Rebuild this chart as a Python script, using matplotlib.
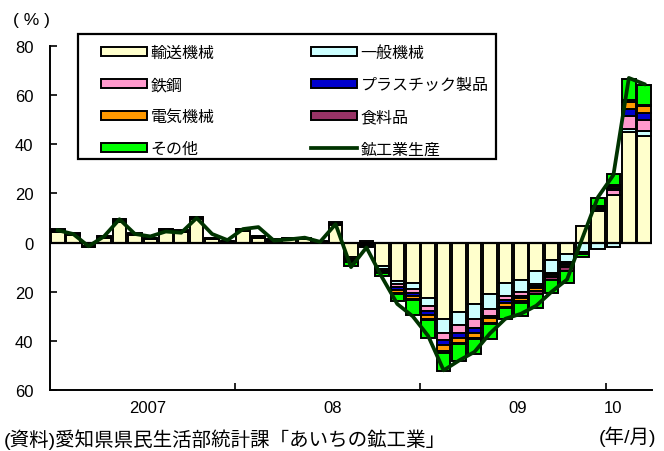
import matplotlib
matplotlib.use("Agg")
import matplotlib.pyplot as plt
import numpy as np
from matplotlib.patches import Patch, Rectangle
from matplotlib.lines import Line2D

plt.rcParams['font.family'] = ['Liberation Sans', 'Noto Sans CJK JP', 'DejaVu Sans']

# months: Jan 2007 .. Mar 2010
months = [f"{y}-{m:02d}" for y in (2007, 2008, 2009) for m in range(1, 13)] + ["2010-01", "2010-02", "2010-03"]

series_names = ["輸送機械", "一般機械", "鉄鋼", "プラスチック製品", "電気機械", "食料品", "その他"]
series_colors = ["#FFFFCC", "#CCFFFF", "#FF99CC", "#0000CC", "#FF9900", "#993366", "#00FF00"]

transport = [4.5, 3.0, -1.2, 2.0, 8.5, 3.0, 1.5, 4.6, 4.2, 9.5, 1.5, 0.5,
             4.6, 2.0, 0.8, 1.5, 1.5, 0.3, 7.2, -6.0, 0.8, -9.5, -15.6, -16.3,
             -22.4, -31.2, -28.2, -25.1, -21.0, -16.3, -15.3, -11.5, -7.2, -4.8, 6.9, 13.0,
             19.4, 44.8, 43.4]
general = [0.3, 0.2, -0.3, 0.2, 0.3, 0.2, 0.2, 0.3, 0.3, 0.3, 0.2, 0.1,
           0.3, 0.2, 0.2, 0.2, 0.2, 0.1, 0.3, -0.5, -0.4, -1.2, -1.4, -2.7,
           -3.3, -5.4, -5.5, -5.9, -6.1, -5.4, -5.0, -5.5, -5.0, -3.3, -3.8, -2.5,
           -2.0, 1.6, 2.0]
steel = [0.2, 0.1, -0.1, 0.1, 0.2, 0.1, 0.1, 0.2, 0.1, 0.2, 0.1, 0.1,
         0.2, 0.2, 0.1, 0.1, 0.1, 0.1, 0.2, -0.3, -0.3, -0.4, -1.0, -1.5,
         -2.3, -3.0, -2.9, -3.6, -2.6, -1.8, -1.4, -0.8, -0.5, -0.4, -0.2, 0.3,
         2.0, 5.1, 4.5]
plastic = [0.1, 0.1, -0.1, 0.1, 0.1, 0.1, 0.0, 0.1, 0.1, 0.1, 0.0, 0.0,
           0.1, 0.1, 0.0, 0.0, 0.0, 0.0, 0.1, -0.5, -0.3, -0.5, -1.2, -1.2,
           -1.5, -2.2, -2.1, -2.0, -1.2, -0.9, -0.8, -0.6, -0.5, -0.5, -0.2, 0.7,
           1.0, 3.0, 3.0]
electric = [0.1, 0.1, -0.1, 0.1, 0.2, 0.1, 0.1, 0.1, 0.1, 0.2, 0.1, 0.1,
            0.1, 0.1, 0.1, 0.1, 0.1, 0.1, 0.1, -0.5, -0.4, -0.5, -1.2, -1.2,
            -1.5, -2.5, -2.0, -2.2, -1.8, -1.7, -1.3, -1.4, -1.0, -1.0, -0.3, 0.5,
            0.6, 2.9, 2.7]
food = [0.1, 0.0, 0.0, 0.0, 0.1, 0.0, 0.0, 0.1, 0.0, 0.1, 0.0, 0.0,
        0.1, 0.0, 0.0, 0.0, 0.0, 0.0, 0.1, -0.3, -0.2, -0.3, -0.6, -0.5,
        -0.6, -0.7, -0.5, -0.5, -0.5, -0.6, -0.6, -1.2, -1.2, -1.6, -0.3, 0.5,
        0.6, 0.6, 0.5]
other = [0.2, 0.2, -0.2, 0.2, 0.2, 0.2, 0.1, 0.1, 0.2, 0.2, 0.1, 0.0,
         0.1, 0.1, 0.1, 0.1, 0.1, 0.1, 0.2, -1.3, -0.4, -1.2, -2.7, -6.1,
         -7.1, -7.2, -7.0, -6.2, -6.1, -4.5, -5.4, -5.5, -5.0, -4.7, -1.0, 3.0,
         4.2, 8.5, 7.9]
total_line = [5.0, 3.5, -1.5, 2.5, 9.5, 3.5, 2.5, 4.5, 4.0, 10.0, 3.5, 1.0,
              5.5, 6.3, 0.8, 1.3, 2.0, 0.3, 7.5, -10.0, -2.0, -14.0, -25.0, -30.0,
              -38.0, -52.0, -48.0, -44.5, -37.0, -31.0, -29.0, -25.7, -20.0, -15.0, 2.0, 18.5,
              27.5, 67.0, 64.5]
line_name = "鉱工業生産"

year_labels = ["2007", "08", "09", "10"]
year_label_pos = [5.8, 17.8, 29.8, 36.0]
year_ticks = [11.5, 23.5, 35.5]
ytick_vals = [80, 60, 40, 20, 0, -20, -40, -60]
ytick_labels = ["80", "60", "40", "20", "0", "20", "40", "60"]

all_series = [transport, general, steel, plastic, electric, food, other]

fig = plt.figure(figsize=(6.64, 4.52), dpi=100)
ax = fig.add_axes([50/664, 1-391/452, 602/664, 344/452])

x = np.arange(len(months))
pos_cum = np.zeros(len(months))
neg_cum = np.zeros(len(months))
for vals, col in zip(all_series, series_colors):
    v = np.array(vals, dtype=float)
    bottom = np.where(v >= 0, pos_cum, neg_cum)
    ax.bar(x, v, bottom=bottom, width=0.88, color=col, edgecolor='black', linewidth=1.4, zorder=2)
    pos_cum = np.where(v >= 0, pos_cum + v, pos_cum)
    neg_cum = np.where(v < 0, neg_cum + v, neg_cum)

ax.axhline(0, color='black', linewidth=1.6, zorder=3)
ax.plot(x, total_line, color='#003300', linewidth=2.7, zorder=4)

ax.set_xlim(-0.5, len(months) - 0.5)
ax.set_ylim(-60, 80)
ax.set_yticks(ytick_vals)
ax.set_yticklabels(ytick_labels, fontsize=12)
ax.tick_params(axis='y', direction='in', length=5, width=1.2, pad=12)
ax.set_xticks(year_ticks)
ax.set_xticklabels([])
ax.tick_params(axis='x', direction='in', length=5, width=1.2)
for lab, p in zip(year_labels, year_label_pos):
    ax.text(p, -64, lab, ha='center', va='top', fontsize=12)

for s in ['top', 'right']:
    ax.spines[s].set_visible(False)
ax.spines['left'].set_linewidth(1.4)
ax.spines['bottom'].set_linewidth(1.4)

# legend
handles = {n: Patch(facecolor=c, edgecolor='black', linewidth=1.4) for n, c in zip(series_names, series_colors)}
line_h = Line2D([0], [0], color='#003300', linewidth=2.7)
order = ["輸送機械", "鉄鋼", "電気機械", "その他", "一般機械", "プラスチック製品", "食料品"]
hs = [handles[n] for n in order[:4]] + [handles[n] for n in order[4:]] + [line_h]
ls = order + [line_name]
fig.legend(hs, ls, ncol=2, loc='upper left', bbox_to_anchor=(101/664, 1-46/452),
           frameon=False, fontsize=11.5, handlelength=2.9, handleheight=0.45,
           handletextpad=0.22, columnspacing=6.0, labelspacing=1.07, borderpad=0,
           borderaxespad=0)
fig.patches.append(Rectangle((78/664, 1-160/452), 418/664, 125/452, transform=fig.transFigure,
                             fill=False, edgecolor='black', linewidth=1.6))

fig.text(13/664, 1-20/452, "( % )", fontsize=12.5, ha='left', va='center')
fig.text(4/664, 1-440/452, "(資料)愛知県県民生活部統計課「あいちの鉱工業」", fontsize=14,
         ha='left', va='center')
fig.text(656/664, 1-437/452, "(年/月)", fontsize=14, ha='right', va='center')

fig.savefig("out.png", dpi=100)
